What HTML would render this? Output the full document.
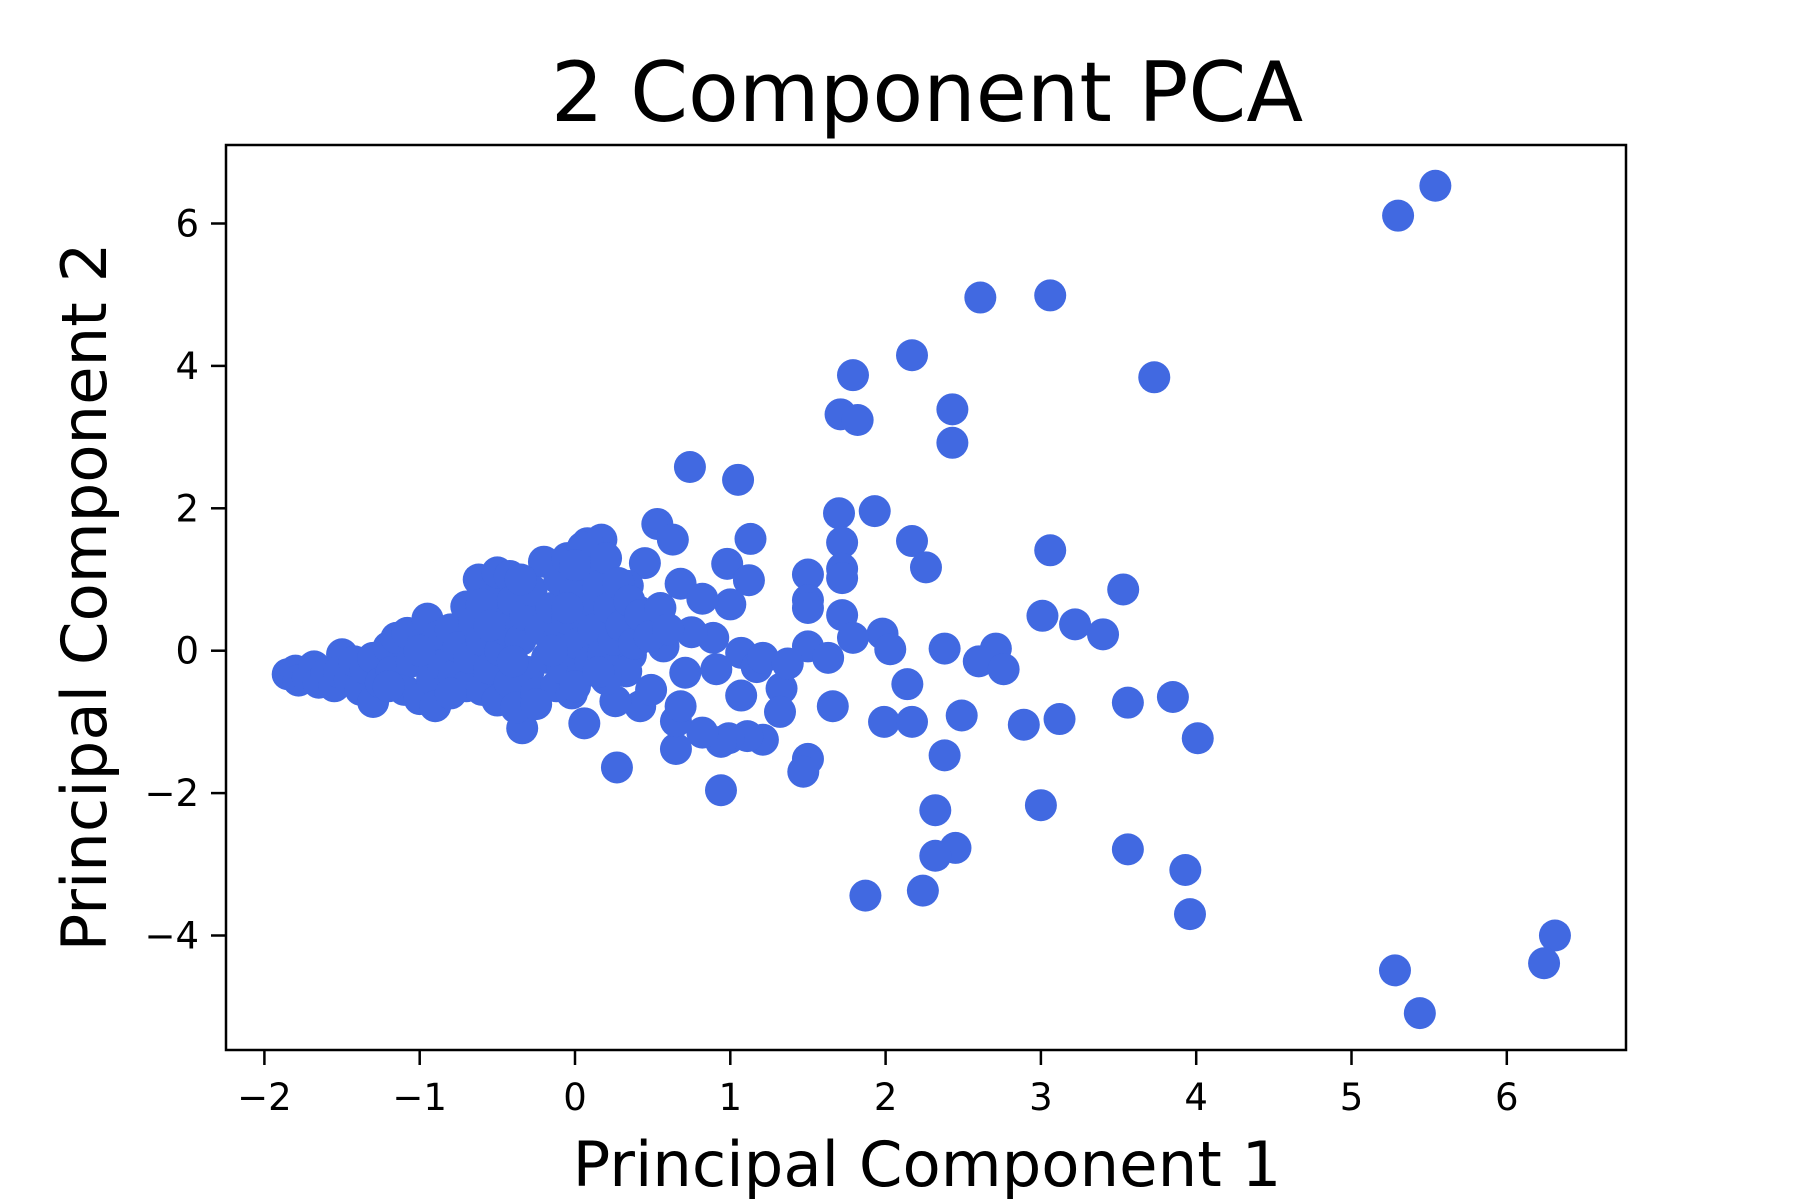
<!DOCTYPE html>
<html><head><meta charset="utf-8"><style>
html,body{margin:0;padding:0;background:#fff;}
svg{display:block;font-family:"DejaVu Sans","Liberation Sans",sans-serif;}
</style></head><body>
<svg id="chart" width="1800" height="1200" viewBox="0 0 1800 1200">
<rect x="0" y="0" width="1800" height="1200" fill="#fff"/>
<text x="927" y="121" font-size="83" text-anchor="middle">2 Component PCA</text>
<g id="points"></g>
<rect x="226" y="145" width="1400" height="905" fill="none" stroke="#000" stroke-width="2.5"/>
<g id="xticks"></g>
<g id="yticks"></g>
<text x="927" y="1186" font-size="62.5" text-anchor="middle">Principal Component 1</text>
<text x="0" y="0" font-size="62.5" text-anchor="middle" transform="translate(106,597) rotate(-90)">Principal Component 2</text>
</svg>
<script>
const xTickValues = [-2,-1,0,1,2,3,4,5,6];
const yTickValues = [-4,-2,0,2,4,6];
const pc1 = [5.54,5.30,2.61,3.06,2.17,1.79,3.73,1.71,1.82,2.43,2.43,0.74,1.05,1.70,1.93,0.53,0.63,1.13,2.17,1.72,3.06,2.26,1.50,1.72,1.72,0.98,1.12,3.53,1.50,1.50,1.00,0.68,0.82,1.72,3.01,3.22,3.40,1.98,1.79,2.03,2.38,2.71,2.60,2.76,1.50,1.63,2.14,1.66,2.49,1.99,2.17,2.89,3.12,3.56,3.85,4.01,2.38,1.50,1.47,0.27,0.94,3.00,2.32,2.45,2.32,3.56,3.93,3.96,1.87,2.24,6.31,6.24,5.28,5.44,
1.33,1.32,1.21,1.11,0.99,0.94,0.82,0.65,0.65,0.68,1.07,1.07,1.17,1.21,1.37,0.91,0.89,0.75,0.71,0.57,0.42,0.49,0.26,0.36,0.33,0.06,-0.34,0.45,0.17,0.08,0.41,0.34,0.17,
-1.85,-1.8,-1.78,-1.72,-1.68,-1.65,-1.6,-1.55,-1.5,-1.52,-1.45,-1.42,-1.38,-1.35,-1.3,-1.3,-1.25,-1.2,-1.18,-1.15,-1.1,-1.08,-1.05,-1.0,-0.98,-0.95,-0.92,-0.9,-0.88,-0.85,-0.8,-0.78,-0.75,-0.7,-0.7,-0.68,-0.65,-0.62,-0.6,-0.6,-0.55,-0.55,-0.52,-0.5,-0.5,-0.48,-0.45,-0.42,-0.42,-0.4,-0.38,-0.35,-0.32,-0.3,-0.28,-0.25,-0.22,-0.2,-0.18,-0.15,-0.12,-0.1,-0.1,-0.08,-0.05,-0.05,-0.02,0.0,0.02,0.05,0.05,0.08,0.1,0.1,0.12,0.15,0.18,0.2,0.22,0.25,0.28,0.3,0.35,0.38,0.42,0.48,0.55,0.6,0.0,-0.25,0.2,-0.6,-0.35,0.0,-0.15,-0.4,-0.8,-1.0,-1.2,-0.55,0.15,-0.05];
const pc2 = [6.53,6.11,4.96,4.99,4.15,3.87,3.84,3.32,3.24,3.39,2.92,2.58,2.40,1.93,1.96,1.78,1.56,1.57,1.54,1.52,1.41,1.17,1.07,1.15,1.02,1.22,0.99,0.86,0.71,0.60,0.65,0.94,0.73,0.50,0.49,0.37,0.23,0.24,0.18,0.02,0.03,0.03,-0.15,-0.26,0.06,-0.10,-0.47,-0.78,-0.91,-1.00,-1.00,-1.04,-0.96,-0.73,-0.65,-1.23,-1.47,-1.52,-1.70,-1.64,-1.96,-2.17,-2.24,-2.77,-2.88,-2.79,-3.08,-3.70,-3.44,-3.37,-4.00,-4.39,-4.49,-5.09,
-0.53,-0.86,-1.25,-1.20,-1.23,-1.28,-1.15,-1.38,-0.99,-0.78,-0.63,-0.03,-0.23,-0.10,-0.18,-0.26,0.18,0.26,-0.31,0.06,-0.78,-0.55,-0.71,-0.06,-0.29,-1.02,-1.09,1.23,1.56,1.51,0.55,0.91,0.26,
-0.33,-0.28,-0.42,-0.38,-0.22,-0.45,-0.32,-0.5,-0.05,-0.3,-0.4,-0.15,-0.55,-0.25,-0.72,-0.1,-0.45,0.05,-0.3,0.18,-0.55,0.25,-0.15,-0.68,0.1,0.45,-0.4,-0.78,0.2,-0.2,0.3,-0.35,0.05,0.62,-0.5,-0.1,0.4,1.0,-0.55,0.15,0.8,-0.25,0.5,1.1,-0.7,0.0,0.3,1.05,-0.45,0.7,-0.8,0.15,0.5,-0.3,0.85,-0.6,0.3,1.25,-0.1,0.6,-0.5,1.0,0.2,-0.25,1.3,0.45,-0.6,0.8,0.1,1.45,-0.3,0.55,1.1,-0.15,0.3,0.9,-0.05,1.3,0.6,0.15,0.95,0.35,0.7,0.1,0.5,0.2,0.6,0.3,-0.5,-0.75,-0.4,0.65,1.0,1.2,0.0,-0.15,-0.6,0.0,-0.5,0.35,-0.3,0.6];
const NS='http://www.w3.org/2000/svg';
function xScale(v){return 575+155.3*v;}
function yScale(v){return 650.7-71.2*v;}
const pg=document.getElementById('points');
for(let i=0;i<pc1.length;i++){
  const c=document.createElementNS(NS,'circle');
  c.setAttribute('cx',xScale(pc1[i]));c.setAttribute('cy',yScale(pc2[i]));
  c.setAttribute('r',16);c.setAttribute('fill','#4169e1');
  
  
  pg.appendChild(c);
}
const xg=document.getElementById('xticks');
xTickValues.forEach(v=>{
  const x=xScale(v);
  const l=document.createElementNS(NS,'line');
  l.setAttribute('x1',x);l.setAttribute('x2',x);l.setAttribute('y1',1050);l.setAttribute('y2',1065);
  l.setAttribute('stroke','#000');l.setAttribute('stroke-width',2.5);
  
  
  xg.appendChild(l);
  const t=document.createElementNS(NS,'text');
  t.setAttribute('x',x);t.setAttribute('y',1110);t.setAttribute('font-size',37);t.setAttribute('text-anchor','middle');
  t.textContent=(v<0?'\u2212'+(-v):String(v));
  
  
  xg.appendChild(t);
});
const yg=document.getElementById('yticks');
yTickValues.forEach(v=>{
  const y=yScale(v);
  const l=document.createElementNS(NS,'line');
  l.setAttribute('x1',211);l.setAttribute('x2',226);l.setAttribute('y1',y);l.setAttribute('y2',y);
  l.setAttribute('stroke','#000');l.setAttribute('stroke-width',2.5);
  
  
  yg.appendChild(l);
  const t=document.createElementNS(NS,'text');
  t.setAttribute('x',199);t.setAttribute('y',y+13);t.setAttribute('font-size',37);t.setAttribute('text-anchor','end');
  t.textContent=(v<0?'\u2212'+(-v):String(v));
  
  
  yg.appendChild(t);
});
</script>
</body></html>
